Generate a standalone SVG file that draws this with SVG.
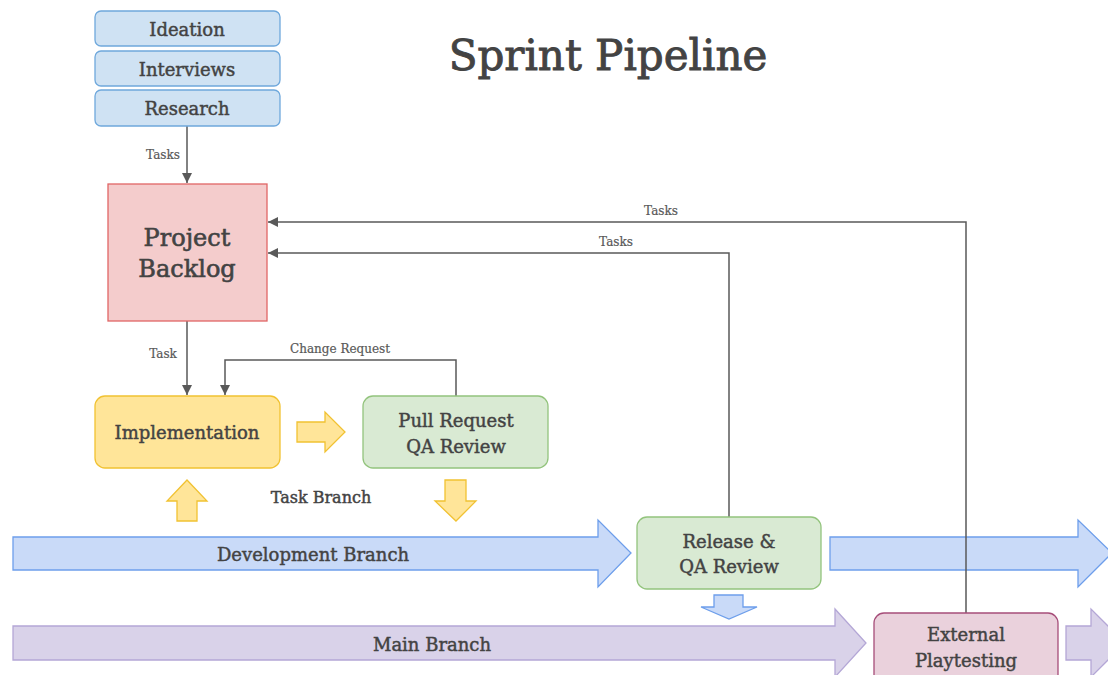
<svg xmlns="http://www.w3.org/2000/svg" width="1108" height="675" viewBox="0 0 1108 675">
<defs>
<style>
text{font-family:"DejaVu Serif","Liberation Serif",serif;fill:#434343;text-anchor:middle;dominant-baseline:central;stroke:#434343;stroke-width:0.45}
.lbl{font-size:12px;fill:#595959;stroke:#595959;stroke-width:0.2}
.node{font-size:18px}
.conn{fill:none;stroke:#595959;stroke-width:1.5}
.blue{fill:#cfe2f3;stroke:#6fa8dc;stroke-width:1.3}
.ybox{fill:#ffe599;stroke:#f1c232;stroke-width:1.3}
.gbox{fill:#d9ead3;stroke:#93c47d;stroke-width:1.3}
.rbox{fill:#f4cccc;stroke:#e06666;stroke-width:1.3}
.pbox{fill:#ead1dc;stroke:#a64d79;stroke-width:1.3}
.yarr{fill:#ffe599;stroke:#f1c232;stroke-width:1.3}
.barr{fill:#c9daf8;stroke:#6d9eeb;stroke-width:1.3}
.parr{fill:#d9d2e9;stroke:#b4a7d6;stroke-width:1.3}
</style>
<marker id="ah" viewBox="0 0 10 10" refX="10" refY="5" markerWidth="10" markerHeight="10" markerUnits="userSpaceOnUse" orient="auto"><path d="M0,0 L10,5 L0,10 z" fill="#595959"/></marker>
</defs>
<rect width="1108" height="675" fill="#fff"/>
<text x="608" y="55" style="font-size:42px;stroke-width:0.9">Sprint Pipeline</text>

<g id="branches">
<path class="barr" d="M13,537 H598 V520 L631,553 L598,587 V570 H13 Z"/>
<text x="313" y="554" class="node">Development Branch</text>
<path class="parr" d="M13,626 H835 V609 L866,643 L835,677 V660 H13 Z"/>
<text x="432" y="644" class="node">Main Branch</text>
<path class="barr" d="M830,537 H1078 V520 L1112,553 L1078,587 V570 H830 Z"/>
<path class="parr" d="M1066,626 H1091 V609 L1125,643 L1091,677 V660 H1066 Z"/>
<path class="yarr" d="M297,422 H325 V412 L345,432 L325,452 V442 H297 Z"/>
<path class="yarr" d="M177,521 V501 H167 L187,480 L207,501 H197 V521 Z"/>
<path class="yarr" d="M445,480 V501 H435 L456,521 L476,501 H466 V480 Z"/>
<path class="barr" d="M714,595 H743 V607 H757 L729,619 L701,607 H714 Z"/>
<text x="321" y="497" style="font-size:16px">Task Branch</text>
</g>

<g id="connectors">
<path class="conn" d="M187,126 V183" marker-end="url(#ah)"/>
<text x="163" y="155" class="lbl">Tasks</text>
<path class="conn" d="M187,321 V395" marker-end="url(#ah)"/>
<text x="163" y="354" class="lbl">Task</text>
<path class="conn" d="M456,396 V360 H225 V395" marker-end="url(#ah)"/>
<text x="340" y="349" class="lbl">Change Request</text>
<path class="conn" d="M729,517 V253 H268" marker-end="url(#ah)"/>
<text x="616" y="242" class="lbl">Tasks</text>
<path class="conn" d="M966,613 V222 H268" marker-end="url(#ah)"/>
<text x="661" y="211" class="lbl">Tasks</text>
</g>

<g id="ideation"><rect class="blue" x="95" y="11" width="185" height="35" rx="6"/><text x="187" y="29" class="node">Ideation</text></g>
<g id="interviews"><rect class="blue" x="95" y="51" width="185" height="35" rx="6"/><text x="187" y="69" class="node">Interviews</text></g>
<g id="research"><rect class="blue" x="95" y="90" width="185" height="36" rx="6"/><text x="187" y="108" class="node">Research</text></g>
<g id="backlog"><rect class="rbox" x="108" y="184" width="159" height="137"/><text x="187" y="238" style="font-size:24px;stroke-width:0.6">Project</text><text x="187" y="269" style="font-size:24px;stroke-width:0.6">Backlog</text></g>
<g id="implementation"><rect class="ybox" x="95" y="396" width="185" height="72" rx="10"/><text x="187" y="432" class="node">Implementation</text></g>
<g id="pullrequest"><rect class="gbox" x="363" y="396" width="185" height="72" rx="10"/><text x="456" y="420" class="node">Pull Request</text><text x="456" y="446" class="node">QA Review</text></g>
<g id="release"><rect class="gbox" x="637" y="517" width="184" height="72" rx="10"/><text x="729" y="541" class="node">Release &amp;</text><text x="729" y="566" class="node">QA Review</text></g>
<g id="playtesting"><rect class="pbox" x="874" y="613" width="184" height="72" rx="10"/><text x="966" y="634" class="node">External</text><text x="966" y="660" class="node">Playtesting</text></g>
</svg>
